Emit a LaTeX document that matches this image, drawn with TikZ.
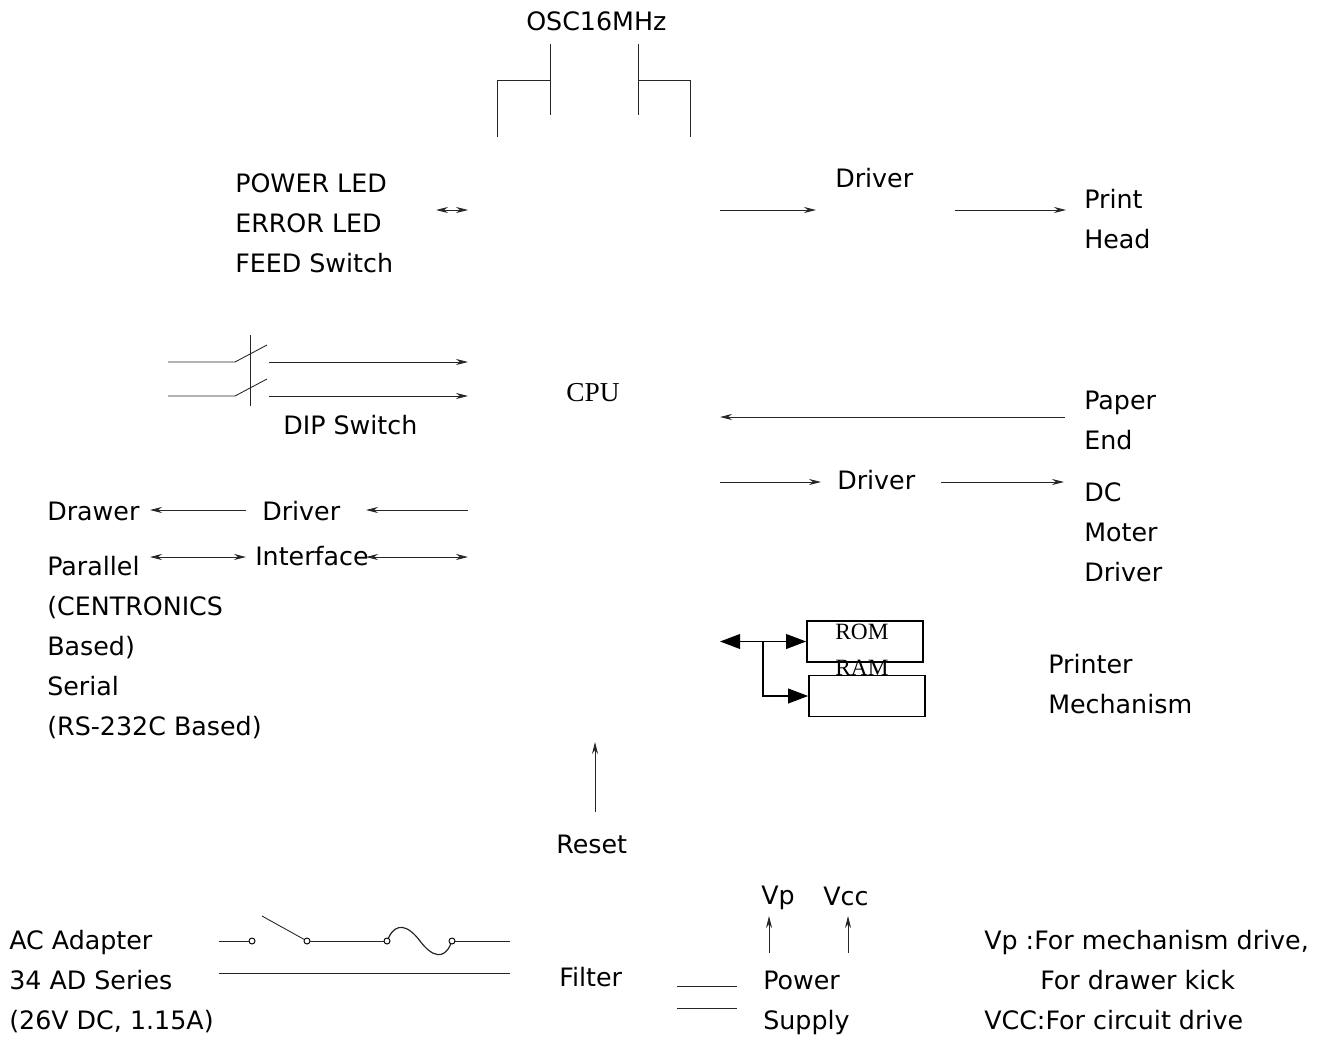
\documentclass[tikz,border=0pt]{standalone}
\usepackage{fontspec}
\setmainfont{DejaVu Sans}
\newfontfamily\cpufont{Liberation Serif}
\usepackage{tikz}
\usetikzlibrary{arrows.meta,positioning,calc}

\begin{document}
\begin{tikzpicture}[
    x=0.75pt, y=-0.75pt,
    >={Stealth[length=9pt,width=4.5pt]},
    lbl/.style={anchor=west, inner sep=0pt, align=left,
                font=\fontsize{19pt}{30pt}\selectfont},
    serif/.style={inner sep=0pt, font=\cpufont\fontsize{17.5pt}{20pt}\selectfont},
    wire/.style={line width=0.65pt, black!85},
    bus/.style={line width=1.2pt, {Triangle[length=15pt,width=11pt]}-{Triangle[length=15pt,width=11pt]}},
    memo/.style={draw, line width=1.2pt, minimum width=87pt, minimum height=31pt, inner sep=0pt},
    contact/.style={circle, draw, line width=0.7pt, fill=white, inner sep=0pt, minimum size=4.5pt},
  ]
    \useasboundingbox (0,0) rectangle (1320,1038);

    % --- oscillator ---
    \node[lbl] (osc) at (526,21) {OSC16MHz};
    \coordinate (xa) at (550,44);
    \coordinate (xb) at (550,115);
    \coordinate (xc) at (638,44);
    \coordinate (xd) at (638,115);
    \draw[wire] (xa) -- (xb);
    \draw[wire] (xc) -- (xd);
    \draw[wire] (550,80) -| (497,137);
    \draw[wire] (638,80) -| (690,137);

    % --- cpu and top row ---
    \node[serif, font=\cpufont\fontsize{20.5pt}{24pt}\selectfont] (cpu) at (593,393) {CPU};
    \node[lbl] (leds) at (235,223) {POWER LED\\ERROR LED\\FEED Switch};
    \node[lbl] (drvh) at (835,178) {Driver};
    \node[lbl] (head) at (1084,219) {Print\\Head};
    \coordinate (la) at (436,210);
    \coordinate (lb) at (468,210);
    \coordinate (ha) at (720,210);
    \coordinate (hb) at (816,210);
    \coordinate (hc) at (955,210);
    \coordinate (hd) at (1066,210);
    \draw[wire, <->] (la) -- (lb);
    \draw[wire, ->] (ha) -- (hb);
    \draw[wire, ->] (hc) -- (hd);

    % --- dip switch ---
    \node[lbl] (dip) at (283,425) {DIP Switch};
    \foreach \yy/\nm in {362/a,396/b} {
      \coordinate (dip\nm) at (168,\yy);
      \coordinate (sw\nm) at (235,\yy);
      \coordinate (tip\nm) at (267,\yy-17);
      \coordinate (out\nm) at (269,\yy);
      \coordinate (cpu\nm) at (468,\yy);
      \draw[wire] (dip\nm) -- (sw\nm) -- (tip\nm);
      \draw[wire, ->] (out\nm) -- (cpu\nm);
    }
    \coordinate (ga) at (250,335);
    \coordinate (gb) at (250,406);
    \draw[wire] (ga) -- (gb);

    % --- right side ---
    \node[lbl] (paper) at (1084,420) {Paper\\End};
    \node[lbl] (drvm) at (837,480) {Driver};
    \node[lbl] (moter) at (1084,532) {DC\\Moter\\Driver};
    \node[lbl] (mech) at (1048,684) {Printer\\Mechanism};
    \coordinate (pa) at (1065,417);
    \coordinate (pb) at (720,417);
    \coordinate (ma) at (720,482);
    \coordinate (mb) at (821,482);
    \coordinate (mc) at (941,482);
    \coordinate (md) at (1064,482);
    \draw[wire, ->] (pa) -- (pb);
    \draw[wire, ->] (ma) -- (mb);
    \draw[wire, ->] (mc) -- (md);

    % --- memory ---
    \node[memo] (rom) at (865,641.5) {};
    \node[memo] (ram) at (867,696) {};
    \node[serif] (romt) at (862,632) {ROM};
    \node[serif] (ramt) at (862,668) {RAM};
    \coordinate (ba) at (720,641.5);
    \coordinate (bb) at (763,641.5);
    \draw[bus] (ba) -- (rom.west);
    \draw[line width=1.2pt, -{Triangle[length=15pt,width=11pt]}] (bb) |- (ram.west);

    % --- left side ---
    \node[lbl] (drawer) at (47,511) {Drawer};
    \node[lbl] (drvd) at (262,511) {Driver};
    \node[lbl] (iface) at (255,556) {Interface};
    \node[lbl] (ports) at (47,647.5) {Parallel\\(CENTRONICS\\Based)\\Serial\\(RS-232C Based)};
    \coordinate (da) at (246,510);
    \coordinate (db) at (150,510);
    \coordinate (dc) at (468,510);
    \coordinate (dd) at (366,510);
    \coordinate (ia) at (150,557);
    \coordinate (ib) at (246,557);
    \coordinate (ic) at (366,557);
    \coordinate (id) at (468,557);
    \draw[wire, ->] (da) -- (db);
    \draw[wire, ->] (dc) -- (dd);
    \draw[wire, <->] (ia) -- (ib);
    \draw[wire, <->] (ic) -- (id);

    % --- reset ---
    \node[lbl] (reset) at (556,844) {Reset};
    \coordinate (ra) at (595,812);
    \coordinate (rb) at (595,742);
    \draw[wire, ->] (ra) -- (rb);

    % --- power input ---
    \node[lbl] (adapter) at (9,982) {AC Adapter\\34 AD Series\\(26V DC, 1.15A)};
    \node[lbl] (filter) at (559,977) {Filter};
    \node[contact] (c1) at (252,941) {};
    \node[contact] (c2) at (307,941) {};
    \node[contact] (c3) at (387,941) {};
    \node[contact] (c4) at (452,941) {};
    \coordinate (aa) at (219,941);
    \coordinate (ab) at (510,941);
    \coordinate (ac) at (219,973);
    \coordinate (ad) at (510,973);
    \coordinate (lever) at (262,916);
    \draw[wire] (aa) -- (c1);
    \draw[wire] (lever) -- (c2);
    \draw[wire] (c2) -- (c3);
    \draw[wire, line width=0.9pt] (c3) .. controls (396,922) and (408,925) .. (420,941)
                     .. controls (432,957) and (444,960) .. (c4);
    \draw[wire] (c4) -- (ab);
    \draw[wire] (ac) -- (ad);

    % --- power supply ---
    \node[lbl] (supply) at (763,1003) {Power\\Supply};
    \node[lbl] (vp) at (761,898) {Vp};
    \node[lbl] (vcc) at (823,896) {Vcc};
    \node[lbl] (note) at (984,980) {Vp :For mechanism drive,\\\hspace*{42pt}For drawer kick\\VCC:For circuit drive};
    \coordinate (sa) at (677,986);
    \coordinate (sb) at (737,986);
    \coordinate (sc) at (677,1008);
    \coordinate (sd) at (737,1008);
    \coordinate (va) at (769,953);
    \coordinate (vb) at (769,916);
    \coordinate (vc) at (848,953);
    \coordinate (vd) at (848,916);
    \draw[wire] (sa) -- (sb);
    \draw[wire] (sc) -- (sd);
    \draw[wire, ->] (va) -- (vb);
    \draw[wire, ->] (vc) -- (vd);
  \end{tikzpicture}
\end{document}
